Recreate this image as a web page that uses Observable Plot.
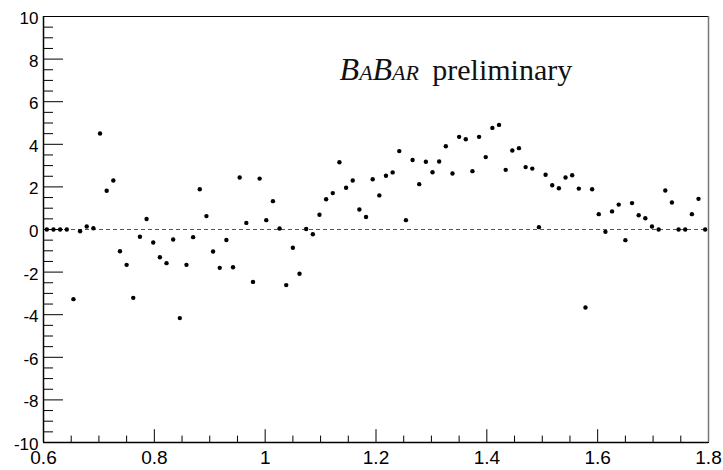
<!DOCTYPE html>
<html>
<head>
<meta charset="utf-8">
<script src="https://cdn.jsdelivr.net/npm/d3@7"></script>
<script src="https://cdn.jsdelivr.net/npm/@observablehq/plot@0.6"></script>
<style>
  html, body { margin: 0; padding: 0; background: #fff; }
</style>
</head>
<body>
<div id="chart"></div>
<script>
// Bin centers (100 bins, 0.6 – 1.8)
const binCenters = [
  0.606,0.618,0.630,0.642,0.654,0.666,0.678,0.690,0.702,0.714,
  0.726,0.738,0.750,0.762,0.774,0.786,0.798,0.810,0.822,0.834,
  0.846,0.858,0.870,0.882,0.894,0.906,0.918,0.930,0.942,0.954,
  0.966,0.978,0.990,1.002,1.014,1.026,1.038,1.050,1.062,1.074,
  1.086,1.098,1.110,1.122,1.134,1.146,1.158,1.170,1.182,1.194,
  1.206,1.218,1.230,1.242,1.254,1.266,1.278,1.290,1.302,1.314,
  1.326,1.338,1.350,1.362,1.374,1.386,1.398,1.410,1.422,1.434,
  1.446,1.458,1.470,1.482,1.494,1.506,1.518,1.530,1.542,1.554,
  1.566,1.578,1.590,1.602,1.614,1.626,1.638,1.650,1.662,1.674,
  1.686,1.698,1.710,1.722,1.734,1.746,1.758,1.770,1.782,1.794
];
// Bin contents
const binValues = [
  0, 0, 0, 0, -3.27, -0.08, 0.14, 0.06, 4.51, 1.82,
  2.30, -1.02, -1.66, -3.21, -0.34, 0.49, -0.61, -1.30, -1.58, -0.47,
  -4.16, -1.66, -0.36, 1.89, 0.63, -1.03, -1.80, -0.49, -1.77, 2.44,
  0.31, -2.46, 2.39, 0.44, 1.33, 0.05, -2.61, -0.86, -2.08, 0.02,
  -0.22, 0.69, 1.42, 1.71, 3.16, 1.96, 2.30, 0.94, 0.59, 2.36,
  1.60, 2.52, 2.68, 3.68, 0.44, 3.26, 2.13, 3.18, 2.69, 3.19,
  3.91, 2.63, 4.35, 4.24, 2.74, 4.35, 3.40, 4.77, 4.91, 2.80,
  3.71, 3.82, 2.93, 2.86, 0.11, 2.57, 2.08, 1.94, 2.44, 2.55,
  1.92, -3.66, 1.89, 0.72, -0.11, 0.85, 1.17, -0.50, 1.24, 0.67,
  0.53, 0.14, 0, 1.83, 1.27, 0, 0, 0.72, 1.44, 0
];
// Axis ticks and labels
const xMajor = [0.6, 0.8, 1.0, 1.2, 1.4, 1.6, 1.8];
const xLabels = ["0.6", "0.8", "1", "1.2", "1.4", "1.6", "1.8"];
const xMinor = [0.65,0.7,0.75,0.85,0.9,0.95,1.05,1.1,1.15,1.25,1.3,1.35,1.45,1.5,1.55,1.65,1.7,1.75];
const yMajor = [-10, -8, -6, -4, -2, 0, 2, 4, 6, 8, 10];
const yLabels = ["-10", "-8", "-6", "-4", "-2", "0", "2", "4", "6", "8", "10"];
const yMinor = [-9.5,-9,-8.5,-7.5,-7,-6.5,-5.5,-5,-4.5,-3.5,-3,-2.5,-1.5,-1,-0.5,
                0.5,1,1.5,2.5,3,3.5,4.5,5,5.5,6.5,7,7.5,8.5,9,9.5];
const annotation = [
  {x: 1.1343, y: 7.03, label: "BaBar"},
  {x: 1.3016, y: 7.03, label: "preliminary"}
];

const points = binCenters.map((x, i) => ({x, y: binValues[i]}));

const W = 723, H = 470;
const mL = 43, mR = 15, mT = 16, mB = 28;
const plotW = W - mL - mR, plotH = H - mT - mB;

const chart = Plot.plot({
  width: W, height: H,
  marginLeft: mL, marginRight: mR, marginTop: mT, marginBottom: mB,
  x: {domain: [0.6, 1.8], axis: null},
  y: {domain: [-10, 10], axis: null},
  style: {background: "white", color: "black", fontFamily: "'Liberation Sans', Arial, Helvetica, sans-serif"},
  marks: [
    Plot.ruleY([0], {stroke: "#555", strokeDasharray: "4,3", strokeWidth: 1}),
    Plot.tickY(yMajor, {y: d => d, insetRight: plotW - 20, stroke: "black"}),
    Plot.tickY(yMinor, {y: d => d, insetRight: plotW - 10, stroke: "black"}),
    Plot.tickX(xMajor, {x: d => d, insetTop: plotH - 12.8, stroke: "black"}),
    Plot.tickX(xMinor, {x: d => d, insetTop: plotH - 6.4, stroke: "black"}),
    Plot.frame({stroke: "black", strokeWidth: 1}),
    Plot.ruleX([0.6], {stroke: "black", strokeWidth: 1.5}),
    Plot.ruleY([-10], {stroke: "black", strokeWidth: 1.5}),
    Plot.ruleX([1.8], {stroke: "#777", strokeWidth: 1.5}),
    Plot.dot(points, {x: "x", y: "y", r: 2.2, fill: "black", stroke: "none"}),
    Plot.text(yMajor, {frameAnchor: "left", y: d => d, text: (d, i) => yLabels[i],
      textAnchor: "end", dx: -5, dy: 2, fontSize: 17, fill: "black"}),
    Plot.text(xMajor, {frameAnchor: "bottom", x: d => d, text: (d, i) => xLabels[i],
      lineAnchor: "top", dy: 8, fontSize: 19, fill: "black"}),
    Plot.text(annotation.slice(0, 1), {x: "x", y: "y", text: "label", textAnchor: "start", lineAnchor: "bottom",
      fontFamily: "'Liberation Serif', 'Times New Roman', serif", fontStyle: "italic", fontVariant: "small-caps",
      fontSize: 32, fill: "#111"}),
    Plot.text(annotation.slice(1), {x: "x", y: "y", text: "label", textAnchor: "start", lineAnchor: "bottom",
      fontFamily: "'Liberation Serif', 'Times New Roman', serif",
      fontSize: 30, fill: "#111"})
  ]
});
document.getElementById("chart").appendChild(chart);
</script>
</body>
</html>
